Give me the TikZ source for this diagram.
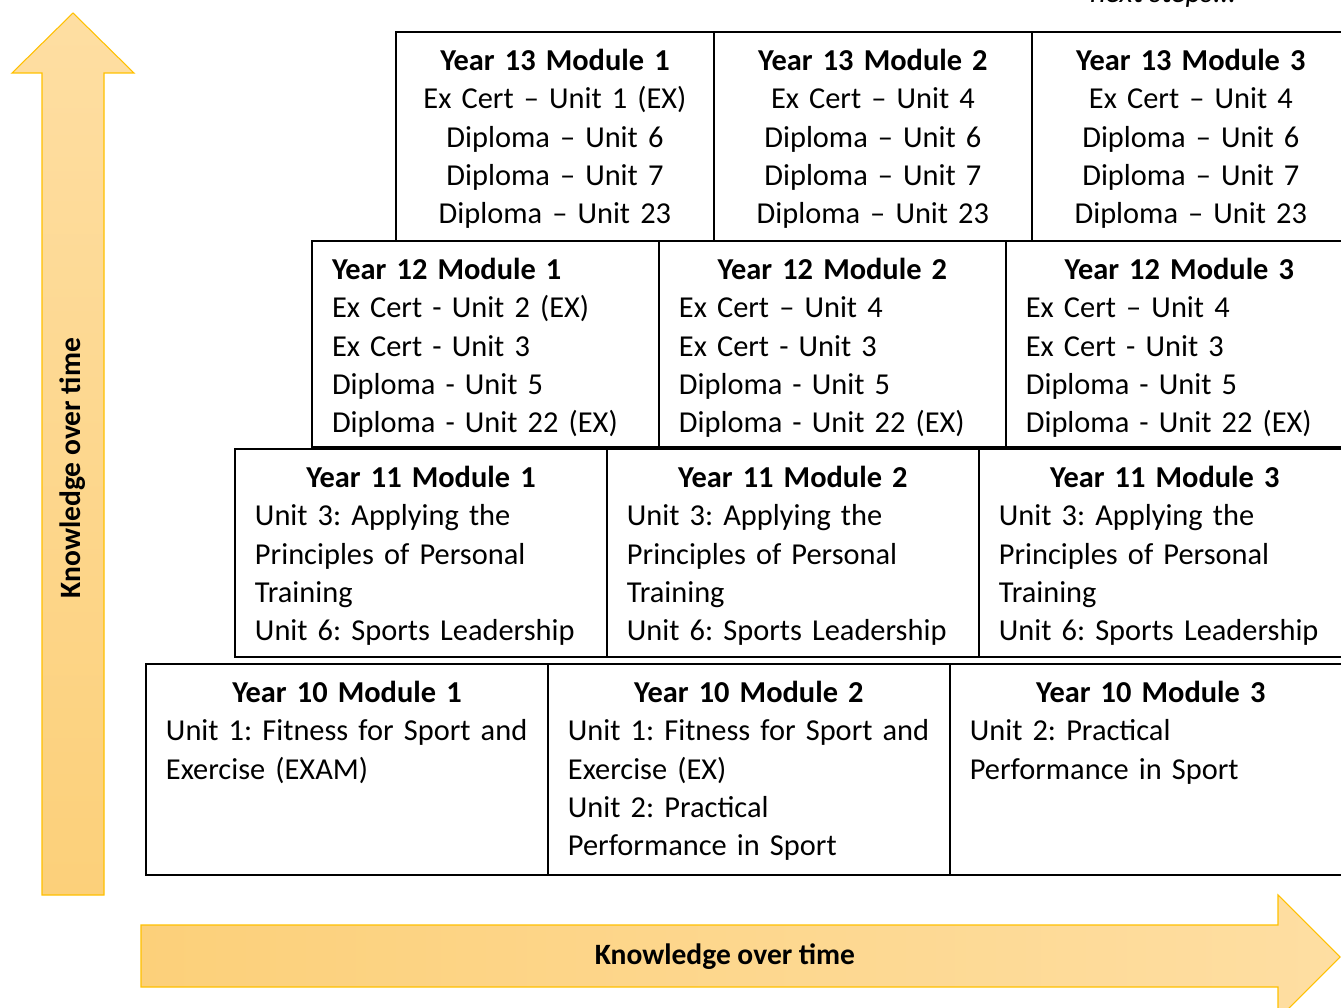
\documentclass[tikz,border=0pt]{standalone}
\usepackage{fontspec}
\setmainfont{Carlito}
\usepackage{tikz}
\usetikzlibrary{positioning}
\definecolor{arrowdeep}{HTML}{FCD07A}
\definecolor{arrowlight}{HTML}{FEDEA2}
\definecolor{arrowline}{HTML}{FFC000}
\tikzset{
	cell/.style={draw, line width=1.2pt, outer sep=0pt, inner xsep=0.4cm, inner ysep=0pt,
		text height=0.77cm, align=left, font=\fontsize{17.3}{21.8}\selectfont\frenchspacing}, % text sits at the top of the box
	yearthirteen/.style={cell, align=center, text width=5.56cm, text depth=3.41cm},
	yeartwelve/.style={cell, text width=6.14cm, text depth=3.35cm},
	yeareleven/.style={cell, text width=6.64cm, text depth=3.39cm},
	yearten/.style={cell, text width=7.24cm, text depth=3.45cm},
	bigarrow/.style={draw=arrowline, line width=0.6pt},
	arrowlabel/.style={font=\fontsize{16.8}{20}\selectfont\bfseries},
}
\newcommand{\modtitle}[1]{{\centering\bfseries #1\par}}

\begin{document}
\begin{tikzpicture}[x=0.02cm, y=-0.02cm]
	\useasboundingbox (0,0) rectangle (1341,1007);

	% arrows along the two sides
	\shade[bigarrow, bottom color=arrowdeep, top color=arrowlight]
		(42,895) -- (42,73) -- (12,73) -- (73,13) -- (134,73) -- (104,73) -- (104,895) -- cycle;
	\shade[bigarrow, left color=arrowdeep, right color=arrowlight]
		(141,925) -- (1278,925) -- (1278,895) -- (1340,957) -- (1278,1019) -- (1278,987) -- (141,987) -- cycle;
	\node[arrowlabel, rotate=90] (upl) at (73,468) {Knowledge over time};
	\node[arrowlabel] (rightl) at (725,957) {Knowledge over time};

	% cut off text at the top
	\node[anchor=base, font=\fontsize{17.3}{20}\selectfont\itshape] (next) at (1163,3) {next steps...};

	% Year 13
	\node[yearthirteen, anchor=north west] (y13a) at (396,32) {\textbf{Year 13 Module 1}\\Ex Cert – Unit 1 (EX)\\Diploma – Unit 6\\Diploma – Unit 7\\Diploma – Unit 23};
	\node[yearthirteen, right=0pt of y13a] (y13b) {\textbf{Year 13 Module 2}\\Ex Cert – Unit 4\\Diploma – Unit 6\\Diploma – Unit 7\\Diploma – Unit 23};
	\node[yearthirteen, right=0pt of y13b] (y13c) {\textbf{Year 13 Module 3}\\Ex Cert – Unit 4\\Diploma – Unit 6\\Diploma – Unit 7\\Diploma – Unit 23};

	% Year 12
	\node[yeartwelve, anchor=north west] (y12a) at (312,241) {\textbf{Year 12 Module 1}\\Ex Cert - Unit 2 (EX)\\Ex Cert - Unit 3\\Diploma - Unit 5\\Diploma - Unit 22 (EX)};
	\node[yeartwelve, right=0pt of y12a] (y12b) {\modtitle{Year 12 Module 2}Ex Cert – Unit 4\\Ex Cert - Unit 3\\Diploma - Unit 5\\Diploma - Unit 22 (EX)};
	\node[yeartwelve, right=0pt of y12b] (y12c) {\modtitle{Year 12 Module 3}Ex Cert – Unit 4\\Ex Cert - Unit 3\\Diploma - Unit 5\\Diploma - Unit 22 (EX)};

	% Year 11
	\node[yeareleven, anchor=north west] (y11a) at (235,449) {\modtitle{Year 11 Module 1}Unit 3: Applying the\\Principles of Personal\\Training\\Unit 6: Sports Leadership};
	\node[yeareleven, right=0pt of y11a] (y11b) {\modtitle{Year 11 Module 2}Unit 3: Applying the\\Principles of Personal\\Training\\Unit 6: Sports Leadership};
	\node[yeareleven, right=0pt of y11b] (y11c) {\modtitle{Year 11 Module 3}Unit 3: Applying the\\Principles of Personal\\Training\\Unit 6: Sports Leadership};

	% Year 10
	\node[yearten, anchor=north west] (y10a) at (146,664) {\modtitle{Year 10 Module 1}Unit 1: Fitness for Sport and\\Exercise (EXAM)};
	\node[yearten, right=0pt of y10a] (y10b) {\modtitle{Year 10 Module 2}Unit 1: Fitness for Sport and\\Exercise (EX)\\Unit 2: Practical\\Performance in Sport};
	\node[yearten, right=0pt of y10b] (y10c) {\modtitle{Year 10 Module 3}Unit 2: Practical\\Performance in Sport};
\end{tikzpicture}
\end{document}
